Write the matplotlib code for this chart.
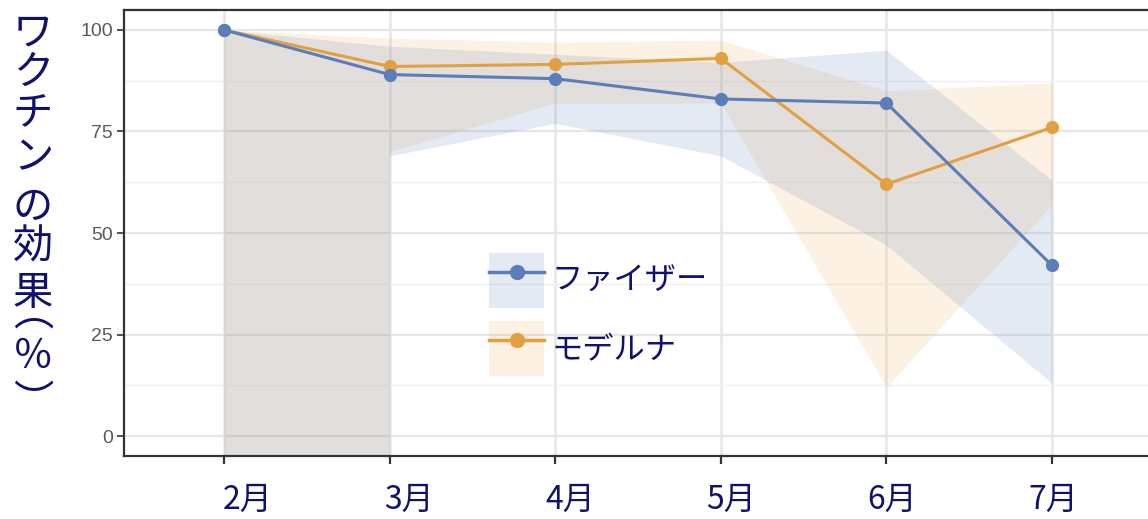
import numpy as np
import matplotlib
matplotlib.use("Agg")
import matplotlib.pyplot as plt
from matplotlib.lines import Line2D
from matplotlib.patches import Patch

plt.rcParams['font.family'] = ['Noto Sans CJK JP', 'DejaVu Sans']

# ---- data -------------------------------------------------------------
months = [2, 3, 4, 5, 6, 7]
month_labels = ["2月", "3月", "4月", "5月", "6月", "7月"]

pfizer = [100, 89, 88, 83, 82, 42]
pfizer_upper = [100, 96, 94, 92, 95, 63]
pfizer_lower = [np.nan, 69, 77, 69, 47, 13]   # nan: interval unbounded below

moderna = [100, 91, 91.5, 93, 62, 76]
moderna_upper = [100, 98, 97, 97.5, 85, 87]
moderna_lower = [np.nan, 70, 82, 82, 12, 57]

series_names = ["ファイザー", "モデルナ"]
ylabel_chars = ["ワ", "ク", "チ", "ン", "の", "効", "果", "︵", "％", "︶"]

# ---- style ------------------------------------------------------------
BLUE = "#5B7DB8"
ORANGE = "#E2A042"
BLUE_FILL = "#7896C8"
ORANGE_FILL = "#F0B96E"
NAVY = "#10106E"
W, H = 1148, 519
Y_MIN, Y_MAX = -4.9, 104.9

fig = plt.figure(figsize=(W / 100, H / 100), dpi=100)
ax_left, ax_right, ax_top, ax_bottom = 124, 1160, 10, 456
ax = fig.add_axes([ax_left / W, 1 - ax_bottom / H,
                   (ax_right - ax_left) / W, (ax_bottom - ax_top) / H])

x0 = 2 - (224 - ax_left) / 165.7
x1 = 7 + (ax_right - 1052) / 165.7
ax.set_xlim(x0, x1)
ax.set_ylim(Y_MIN, Y_MAX)


def ribbon(ax, x, upper, lower, color):
    floor = Y_MIN - 20
    lo = [floor if np.isnan(v) else v for v in lower]
    # unbounded start: fill down to the floor, then step up at the first bounded month
    k = next(i for i, v in enumerate(lower) if not np.isnan(v))
    xs = list(x[:k + 1]) + list(x[k:])
    ys_lo = [floor] * (k + 1) + lo[k:]
    ys_hi = list(upper[:k + 1]) + list(upper[k:])
    ax.fill_between(xs, ys_lo, ys_hi, color=color, alpha=0.2, lw=0, zorder=2)


ribbon(ax, months, moderna_upper, moderna_lower, ORANGE_FILL)
ribbon(ax, months, pfizer_upper, pfizer_lower, BLUE_FILL)

ax.plot(months, moderna, color=ORANGE, lw=2.2, marker='o', ms=8.5,
        mec=ORANGE, zorder=4)
ax.plot(months, pfizer, color=BLUE, lw=2.2, marker='o', ms=8.5,
        mec=BLUE, zorder=5)

# grid
ax.set_yticks([0, 25, 50, 75, 100])
ax.set_yticks([12.5, 37.5, 62.5, 87.5], minor=True)
ax.set_xticks(months)
ax.set_xticklabels([])
ax.grid(True, which='major', axis='y', color='#E6E6E6', lw=1.6, zorder=0)
ax.grid(True, which='minor', axis='y', color='#F0F0F0', lw=1.0, zorder=0)
ax.grid(True, which='major', axis='x', color='#E6E6E6', lw=1.8, zorder=0)
ax.set_axisbelow(True)

for side in ['left', 'bottom', 'top', 'right']:
    ax.spines[side].set_color('#333333')
    ax.spines[side].set_linewidth(1.6)

ax.tick_params(axis='y', which='major', length=5, width=1.2, color='#333333',
               labelsize=14, labelcolor='#5A5A5A', pad=3)
ax.tick_params(axis='y', which='minor', length=0)
ax.tick_params(axis='x', which='major', length=6, width=1.6, color='#333333')
for lab in ax.get_yticklabels():
    lab.set_fontfamily(['Liberation Sans', 'DejaVu Sans'])

# month labels under the axis
for i, lab in enumerate(month_labels):
    fig.text((248 + 161.1 * i) / W, 1 - 500 / H, lab, ha='center', va='center',
             fontsize=23, color=NAVY)

# vertical axis title, one character per row; the vertical-form brackets sit
# off-centre in their em box, so their rows are nudged to compensate
ylabel_y = [33, 72, 114, 158, 207, 247, 293, 313, 357, 403]
for ch, yy in zip(ylabel_chars, ylabel_y):
    fig.text(33 / W, 1 - yy / H, ch, ha='center', va='center',
             fontsize=29, color=NAVY)

# legend
handles = [
    (Patch(facecolor=BLUE_FILL, alpha=0.2, lw=0),
     Line2D([], [], color=BLUE, lw=2.5, marker='o', ms=10, mec=BLUE)),
    (Patch(facecolor=ORANGE_FILL, alpha=0.2, lw=0),
     Line2D([], [], color=ORANGE, lw=2.5, marker='o', ms=10, mec=ORANGE)),
]
fig.legend(handles, series_names, loc='upper left',
           bbox_to_anchor=(489 / W, 1 - 253 / H), frameon=False,
           fontsize=22.5, labelcolor=NAVY, handlelength=1.76, handleheight=2.33,
           handletextpad=0.25, labelspacing=0.42, borderpad=0, borderaxespad=0)

fig.savefig("out.png", dpi=100)
